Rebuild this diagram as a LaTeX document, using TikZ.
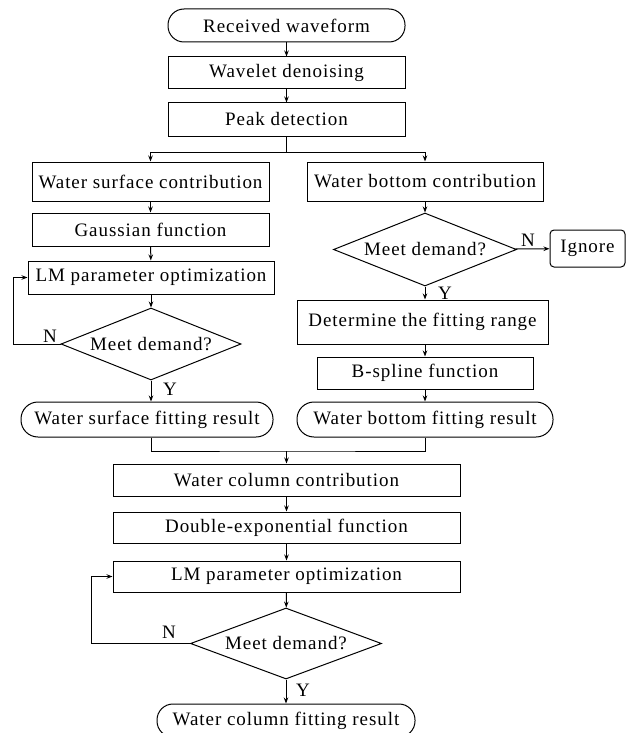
\documentclass[tikz,border=0pt]{standalone}
\usepackage{fontspec}
\setmainfont{Liberation Serif}[LetterSpace=5]
\usetikzlibrary{shapes.geometric,arrows.meta}

\begin{document}
\begin{tikzpicture}[x=1pt,y=-1pt,
   font=\fontsize{19}{21}\selectfont,
   line width=1pt,
   >={Stealth[length=6pt,width=4.5pt]},
   box/.style={draw,rectangle,inner sep=0pt},
   term/.style={draw,rectangle,rounded corners=16pt,inner sep=0pt},
   decide/.style={draw,diamond,aspect=2.5,inner sep=0pt},
   lbl/.style={inner sep=0pt}]
   \useasboundingbox (0,0) rectangle (629,733);

   % common trunk
   \node[term,minimum width=237pt,minimum height=33pt] (recv) at (286.5,25.5) {Received waveform};
   \node[box,minimum width=237pt,minimum height=32pt] (denoise) at (286.5,73) {Wavelet denoising};
   \node[box,minimum width=237pt,minimum height=33pt] (peak) at (286.5,119.5) {Peak detection};
   \coordinate (split) at (286.5,152);

   % water surface
   \node[box,minimum width=237pt,minimum height=39pt] (surf) at (150.5,181.5) {Water surface contribution};
   \node[box,minimum width=237pt,minimum height=33pt] (gauss) at (150.5,229.5) {Gaussian function};
   \node[box,minimum width=246pt,minimum height=33pt] (lmA) at (151,277.5) {LM parameter optimization};
   \node[decide,minimum width=180pt,minimum height=72pt] (decA) at (151,344) {Meet demand?};
   \node[term,minimum width=252pt,minimum height=35pt,rounded corners=17pt] (resA) at (147,419.5) {Water surface fitting result};
   \coordinate (loopA) at (13,344);
   \node[lbl] (nA) at (50,336) {N};
   \node[lbl] (yA) at (170,389) {Y};

   % water bottom
   \node[box,minimum width=236pt,minimum height=39pt] (bott) at (425,181.5) {Water bottom contribution};
   \node[decide,minimum width=183pt,minimum height=73pt] (decB) at (425,249.5) {Meet demand?};
   \node[box,rounded corners=4pt,minimum width=75pt,minimum height=37pt] (ignore) at (587.5,248.5) {Ignore};
   \node[box,minimum width=251pt,minimum height=44pt] (range) at (422.5,322) {Determine the fitting range};
   \node[box,minimum width=216pt,minimum height=32pt] (spline) at (425,373) {B-spline function};
   \node[term,minimum width=256pt,minimum height=35pt,rounded corners=17pt] (resB) at (425,419.5) {Water bottom fitting result};
   \node[lbl] (nB) at (528,240) {N};
   \node[lbl] (yB) at (445,293) {Y};

   % water column
   \coordinate (join) at (286.5,451);
   \node[box,minimum width=347pt,minimum height=32pt] (column) at (286.5,480) {Water column contribution};
   \node[box,minimum width=347pt,minimum height=31pt] (dexp) at (286.5,527.5) {Double-exponential function};
   \node[box,minimum width=347pt,minimum height=31pt] (lmB) at (286.5,576.5) {LM parameter optimization};
   \node[decide,minimum width=191pt,minimum height=71pt] (decC) at (286,643.5) {Meet demand?};
   \node[term,minimum width=258pt,minimum height=33pt] (resC) at (286,720.5) {Water column fitting result};
   \coordinate (loopC) at (91,643.5);
   \node[lbl] (nC) at (169,632) {N};
   \node[lbl] (yC) at (303,690) {Y};

   \draw[->] (recv) -- (denoise);
   \draw[->] (denoise) -- (peak);
   \draw (peak) -- (split);
   \draw[->] (split) -| (surf);
   \draw[->] (split) -| (bott);

   \draw[->] (surf) -- (gauss);
   \draw[->] (gauss) -- (lmA);
   \draw[->] (lmA) -- (decA);
   \draw[->] (decA.south) -- (decA.south |- resA.north);
   \draw[->] (decA.west) -- (loopA) |- (lmA.west);

   \draw[->] (bott) -- (decB);
   \draw[->] (decB) -- (ignore);
   \draw[->] (decB.south) -- (decB.south |- range.north);
   \draw[->] (decB.south |- range.south) -- (spline);
   \draw[->] (spline) -- (resB);

   \draw (decA.south |- resA.south) |- (join) -| (resB.south);
   \draw[->] (join) -- (column);
   \draw[->] (column) -- (dexp);
   \draw[->] (dexp) -- (lmB);
   \draw[->] (lmB) -- (decC);
   \draw[->] (decC) -- (resC);
   \draw[->] (decC.west) -- (loopC) |- (lmB.west);
\end{tikzpicture}
\end{document}
